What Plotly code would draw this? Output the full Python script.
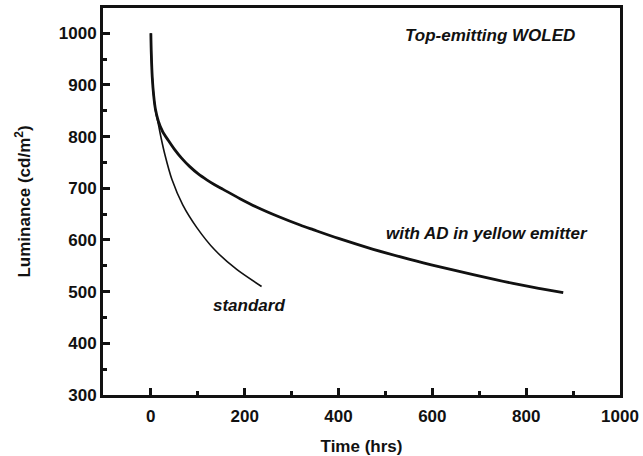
import plotly.graph_objects as go

# With AD in yellow emitter
t_ad = [0, 1, 3, 6, 10, 16, 25, 37, 50, 65, 83, 101, 120, 136, 154, 190, 225, 273, 318, 346,
        400, 474, 550, 616, 687, 772, 830, 879]
L_ad = [1000, 960, 915, 880, 852, 830, 810, 793, 776, 759, 742, 728, 716, 707, 698, 680, 664, 645, 629, 620,
        603, 582, 563, 548, 533, 516, 506, 498]

# Standard device
t_std = [0, 1, 3, 6, 10, 16, 22, 30, 45, 68, 98, 136, 183, 236]
L_std = [1000, 960, 915, 880, 850, 824, 797, 765, 717, 668, 624, 581, 543, 510]

x_ticks = [0, 200, 400, 600, 800, 1000]
y_ticks = [300, 400, 500, 600, 700, 800, 900, 1000]

FONT = "Arial, Liberation Sans, sans-serif"

W, H = 643, 456
ml, mr, mt, mb = 103, 23, 8, 61
pw, ph = W - ml - mr, H - mt - mb

fig = go.Figure()
fig.add_trace(go.Scatter(x=t_std, y=L_std, mode="lines",
                         line=dict(color="#111111", width=1.6, shape="spline", smoothing=0.7),
                         showlegend=False))
fig.add_trace(go.Scatter(x=t_ad, y=L_ad, mode="lines",
                         line=dict(color="#111111", width=2.8, shape="spline", smoothing=0.8),
                         showlegend=False))

annots = [
    (490, 35, "<b><i>Top-emitting WOLED</i></b>"),
    (487, 233, "<b><i>with AD in yellow emitter</i></b>"),
    (249, 305, "<b><i>standard</i></b>"),
]
for px, py, txt in annots:
    fig.add_annotation(x=(px - ml) / pw, y=1 - (py - mt) / ph, xref="paper", yref="paper", text=txt,
                       showarrow=False, font=dict(family=FONT, size=17, color="#111111"),
                       xanchor="center", yanchor="middle")

fig.update_layout(
    width=W, height=H,
    margin=dict(l=ml, r=mr, t=mt, b=mb, autoexpand=False),
    paper_bgcolor="white", plot_bgcolor="white",
    font=dict(family=FONT, size=17, color="#111111"),
    xaxis=dict(range=[-102, 1000], tickvals=x_ticks, ticks="inside", ticklen=7, tickwidth=2.5,
               tickcolor="#111111", showline=True, linewidth=3, linecolor="#111111", mirror=True,
               showgrid=False, zeroline=False, ticklabelstandoff=4,
               minor=dict(dtick=100, tick0=0, ticks="inside", ticklen=4, tickwidth=2.5, tickcolor="#111111"),
               tickfont=dict(family=FONT, size=17, weight="bold"),
               title=dict(text="<b>Time (hrs)</b>", font=dict(family=FONT, size=17), standoff=16)),
    yaxis=dict(range=[300, 1049], tickvals=y_ticks, ticks="inside", ticklen=7, tickwidth=2.5,
               tickcolor="#111111", showline=True, linewidth=3, linecolor="#111111", mirror=True,
               showgrid=False, zeroline=False,
               minor=dict(dtick=50, tick0=300, ticks="inside", ticklen=4, tickwidth=2.5, tickcolor="#111111"),
               tickfont=dict(family=FONT, size=17, weight="bold"),
               title=dict(text="<b>Luminance (cd/m<sup>2</sup>)</b>", font=dict(family=FONT, size=17), standoff=24)),
)

fig.write_html("out.html", config={"displayModeBar": False},
               post_script="document.body.style.margin='0';")
